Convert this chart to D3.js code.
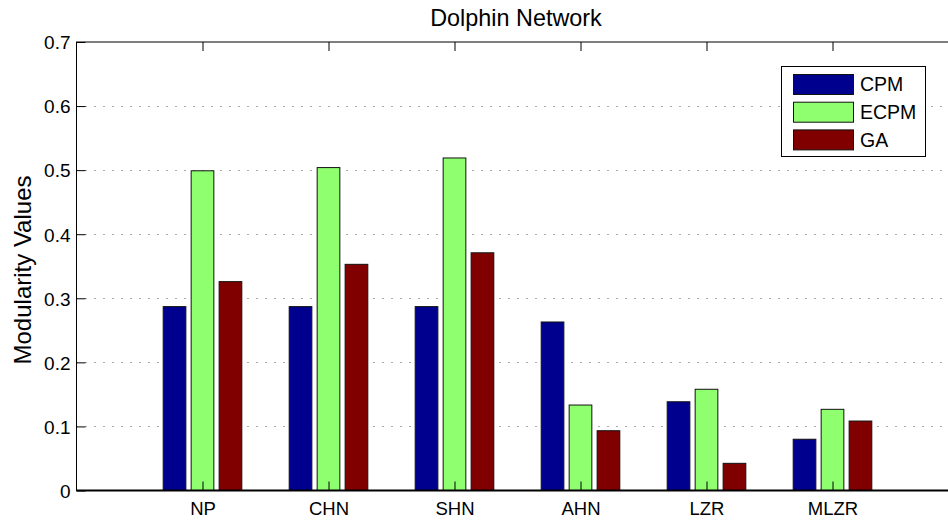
<!DOCTYPE html>
<html>
<head>
<meta charset="utf-8">
<script src="https://cdn.jsdelivr.net/npm/d3@7"></script>
<style>
  body { margin: 0; background: #fff; }
  text { font-family: "Liberation Sans", Arial, sans-serif; fill: #000; }
</style>
</head>
<body>
<div id="chart"></div>
<script>
// Data
const categories = ["NP", "CHN", "SHN", "AHN", "LZR", "MLZR"];
const seriesNames = ["CPM", "ECPM", "GA"];
const cpm  = [0.287, 0.287, 0.287, 0.263, 0.1385, 0.080];
const ecpm = [0.499, 0.504, 0.519, 0.1334, 0.158, 0.1267];
const ga   = [0.326, 0.353, 0.371, 0.0933, 0.0424, 0.1084];
const yTicks = [0, 0.1, 0.2, 0.3, 0.4, 0.5, 0.6, 0.7];
const colors = ["#00008f", "#8fff70", "#800000"];

const W = 948, H = 520;
const pLeft = 76.5, pRight = 958.5, pTop = 42, pBottom = 490.5;

const svg = d3.select("#chart").append("svg")
    .attr("width", W).attr("height", H);

// x in "bar position" units like matlab, 1..6 with xlim 0..7
const x = d3.scaleLinear().domain([0, 7]).range([pLeft, pRight]);
const y = d3.scaleLinear().domain([0, 0.7]).range([pBottom, pTop]);

const barW = 0.18, offset = 0.222;
const series = [cpm, ecpm, ga];

// dotted grid
svg.append("g")
    .selectAll("line")
    .data(yTicks.slice(1, -1))
    .join("line")
    .attr("x1", pLeft).attr("x2", pRight)
    .attr("y1", d => Math.round(y(d)) + 0.5).attr("y2", d => Math.round(y(d)) + 0.5)
    .attr("stroke", "#555")
    .attr("stroke-width", 1)
    .attr("stroke-dasharray", "1,8");

// bars
series.forEach(function (vals, s) {
    svg.append("g")
        .selectAll("rect")
        .data(vals)
        .join("rect")
        .attr("x", (d, i) => x(i + 1 + (s - 1) * offset - barW / 2))
        .attr("width", x(barW) - x(0))
        .attr("y", d => y(d))
        .attr("height", d => y(0) - y(d))
        .attr("fill", colors[s])
        .attr("stroke", "#111")
        .attr("stroke-width", 1);
});

// axes box
svg.append("rect")
    .attr("x", pLeft).attr("y", pTop)
    .attr("width", pRight - pLeft).attr("height", pBottom - pTop)
    .attr("fill", "none").attr("stroke", "#000").attr("stroke-width", 1);
svg.append("line")
    .attr("x1", pLeft).attr("x2", pRight)
    .attr("y1", pBottom).attr("y2", pBottom)
    .attr("stroke", "#000").attr("stroke-width", 2);

// y axis (ticks inward)
const yAxis = d3.axisLeft(y).tickValues(yTicks).tickSize(-9).tickPadding(6)
    .tickFormat(d => d === 0 ? "0" : d3.format(".1f")(d));
const gy = svg.append("g").attr("transform", `translate(${pLeft},0)`).call(yAxis);
gy.select(".domain").remove();
gy.selectAll("text").style("font-size", "19px").attr("dy", "0.36em");
gy.selectAll("line").attr("stroke", "#000");

// x axis (ticks inward, bottom and top)
const xAxis = d3.axisBottom(x).tickValues(d3.range(1, 7)).tickSize(-9).tickPadding(11)
    .tickFormat((d, i) => categories[i]);
const gx = svg.append("g").attr("transform", `translate(0,${pBottom})`).call(xAxis);
gx.select(".domain").remove();
gx.selectAll("text").style("font-size", "18.5px");
gx.selectAll("line").attr("stroke", "#000");

const gxt = svg.append("g").attr("transform", `translate(0,${pTop})`)
    .call(d3.axisTop(x).tickValues(d3.range(1, 7)).tickSize(-9).tickFormat(""));
gxt.select(".domain").remove();
gxt.selectAll("line").attr("stroke", "#000");

// title and y label
svg.append("text")
    .attr("x", 516).attr("y", 26)
    .attr("text-anchor", "middle")
    .style("font-size", "23.4px")
    .text("Dolphin Network");

svg.append("text")
    .attr("transform", `translate(31,270) rotate(-90)`)
    .attr("text-anchor", "middle")
    .style("font-size", "24px")
    .text("Modularity Values");

// legend
const lg = svg.append("g");
lg.append("rect")
    .attr("x", 781.5).attr("y", 66.5).attr("width", 144).attr("height", 90)
    .attr("fill", "#fff").attr("stroke", "#000").attr("stroke-width", 1);
seriesNames.forEach(function (name, i) {
    lg.append("rect")
        .attr("x", 793.5).attr("y", 74.5 + i * 27.7)
        .attr("width", 60).attr("height", 20)
        .attr("fill", colors[i]).attr("stroke", "#111");
    lg.append("text")
        .attr("x", 860).attr("y", 91 + i * 27.8)
        .style("font-size", "19.5px")
        .text(name);
});
</script>
</body>
</html>
